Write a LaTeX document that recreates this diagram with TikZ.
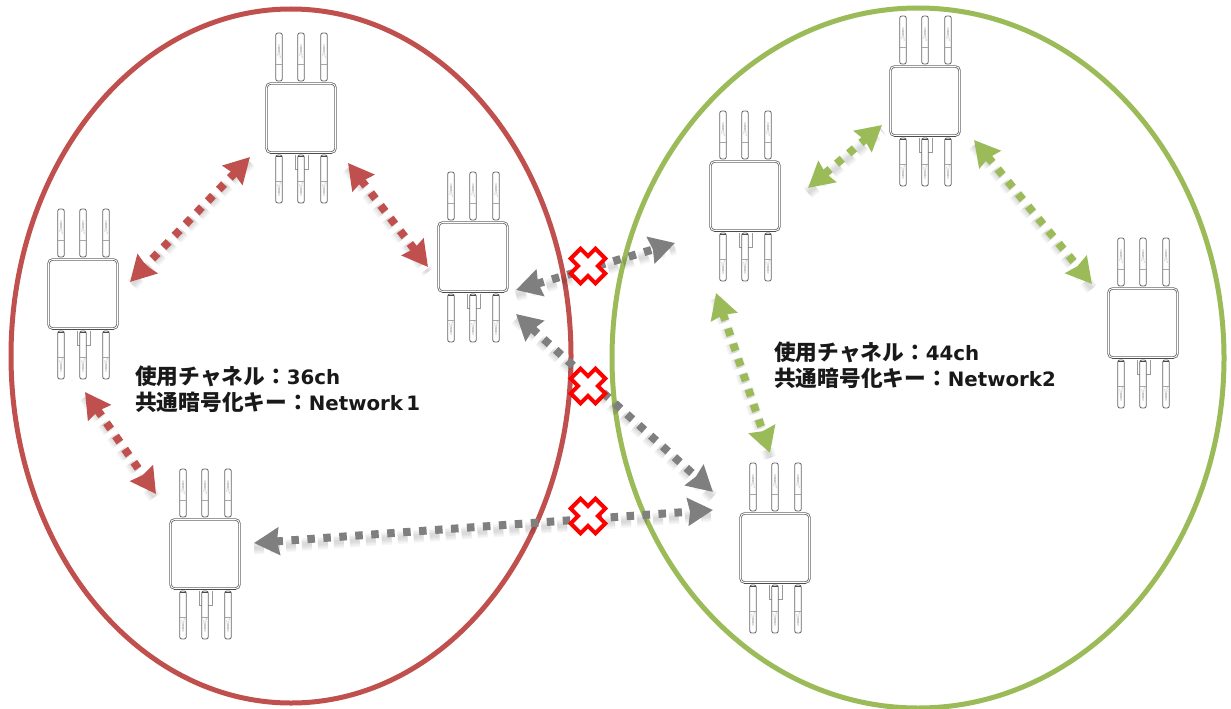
\documentclass[tikz,border=0pt]{standalone}
\usepackage{fontspec}
\setmainfont{DejaVu Sans}
\newfontfamily\jpfont{Noto Sans CJK JP}
\usetikzlibrary{arrows.meta}

\definecolor{netred}{HTML}{C0504D}
\definecolor{netgreen}{HTML}{9BBB59}
\definecolor{linkgray}{HTML}{7F7F7F}

\newcommand{\jptext}[1]{{\jpfont\fontsize{21.7pt}{26pt}\selectfont #1}}

\tikzset{
    apbox/.style={draw=black!60,double=white,double distance=0.8pt,line width=0.8pt,rounded corners=4pt,
        minimum width=69pt,minimum height=69pt,inner sep=0pt},
    antenna/.style={draw=black!60,line width=0.8pt,fill=white,rounded corners=2pt},
    antennamark/.style={black!35,line width=0.4pt},
    link/.style={line width=8pt,dash pattern=on 7.5pt off 8.5pt,{Stealth[length=25pt,width=27pt,inset=2pt]}-{Stealth[length=25pt,width=27pt,inset=2pt]}},
    linkshadow/.style={line width=#1,black,opacity=0.035,dash pattern=on 10pt off 6pt,line cap=butt},
    netlabel/.style={align=left,anchor=north west,inner sep=0pt,font=\bfseries\fontsize{19.8pt}{26pt}\selectfont,text=black!90},
    blocked/.pic={
        \draw[red,line width=4pt,fill=white,rotate=45,line join=miter]
            (-7,-17.5) -- (7,-17.5) -- (7,-7) -- (17.5,-7) -- (17.5,7) -- (7,7) -- (7,17.5)
            -- (-7,17.5) -- (-7,7) -- (-17.5,7) -- (-17.5,-7) -- (-7,-7) -- cycle;
    }
}

% access point: box, three antennas on each side, small tab under the box
\newcommand{\accesspoint}[3]{
    \node[apbox] (#1) at (#2,#3) {};
    \begin{scope}[shift={(#2,#3)}]
        \draw[black!40,line width=0.6pt] (-6,37) -- (-6,51) -- (7,51) -- (7,37);
        \draw[black!70,line width=1.3pt] (-31,35.5) -- (31,35.5);
        \foreach \ax in {-22,0,23} {
            % upper antenna
            \draw[antenna] (\ax-3.2,-85) rectangle (\ax+3.2,-37);
            \draw[antennamark] (\ax-3.2,-54) -- (\ax+3.2,-54);
            \draw[antennamark] (\ax-1.2,-62) -- (\ax,-74) -- (\ax+1.2,-60);
            % lower antenna
            \draw[antenna] (\ax-3.2,37) rectangle (\ax+3.2,85);
            \draw[black!70,line width=1pt] (\ax-3.2,38) -- (\ax+3.2,38);
            \draw[antennamark] (\ax-3.2,63) -- (\ax+3.2,63);
            \draw[antennamark] (\ax-1.2,66) -- (\ax,78) -- (\ax+1.2,64);
        }
    \end{scope}
}

% double arrow between two access points, with its soft shadow: colour, node, offset, node, offset
\newcommand{\netlink}[5]{
    \foreach \sw in {13pt,10pt,7pt,4pt} {
        \draw[linkshadow=\sw] ([shift={(#3)},yshift=-5pt]#2.center) -- ([shift={(#5)},yshift=-5pt]#4.center);
    }
    \draw[link,#1] ([shift={(#3)}]#2.center) -- ([shift={(#5)}]#4.center);
}

\begin{document}
\begin{tikzpicture}[x=1pt,y=-1pt]
    \fill[white] (0,0) rectangle (1231,709);
    \useasboundingbox (0,0) rectangle (1231,709);

    % Network areas
    \draw[netred,line width=5pt] (291,356) ellipse (280pt and 347pt);
    \draw[netgreen,line width=5pt] (918,358) ellipse (306pt and 350pt);

    % Access points of network 1
    \accesspoint{apA}{301}{118}
    \accesspoint{apB}{473}{257}
    \accesspoint{apC}{83}{294}
    \accesspoint{apD}{205}{554}

    % Access points of network 2
    \accesspoint{apE}{745}{196}
    \accesspoint{apF}{925}{101}
    \accesspoint{apG}{1143}{323}
    \accesspoint{apH}{775}{548}

    % Links inside network 1
    \netlink{netred}{apA}{-51,39}{apC}{47,-12}
    \netlink{netred}{apA}{47,45}{apB}{-45,10}
    \netlink{netred}{apC}{2,98}{apD}{-49,-60}

    % Links inside network 2
    \netlink{netgreen}{apE}{63,-8}{apF}{-43,24}
    \netlink{netgreen}{apF}{49,39}{apG}{-51,-39}
    \netlink{netgreen}{apE}{-29,97}{apH}{-5,-95}

    % Links between the two networks
    \netlink{linkgray}{apB}{43,33}{apE}{-70,47}
    \netlink{linkgray}{apB}{43,57}{apH}{-62,-56}
    \netlink{linkgray}{apD}{49,-11}{apH}{-62,-38}

    % Crosses on those links
    \pic at (588,266) {blocked};
    \pic at (588,386) {blocked};
    \pic at (588,516) {blocked};

    % Channel and key of each network
    \node[netlabel] (labelA) at (135,366) {\jptext{使用チャネル：}36ch\\\jptext{共通暗号化キー：}Network\,1};
    \node[netlabel] (labelB) at (774,342) {\jptext{使用チャネル：}44ch\\\jptext{共通暗号化キー：}Network2};
\end{tikzpicture}
\end{document}
